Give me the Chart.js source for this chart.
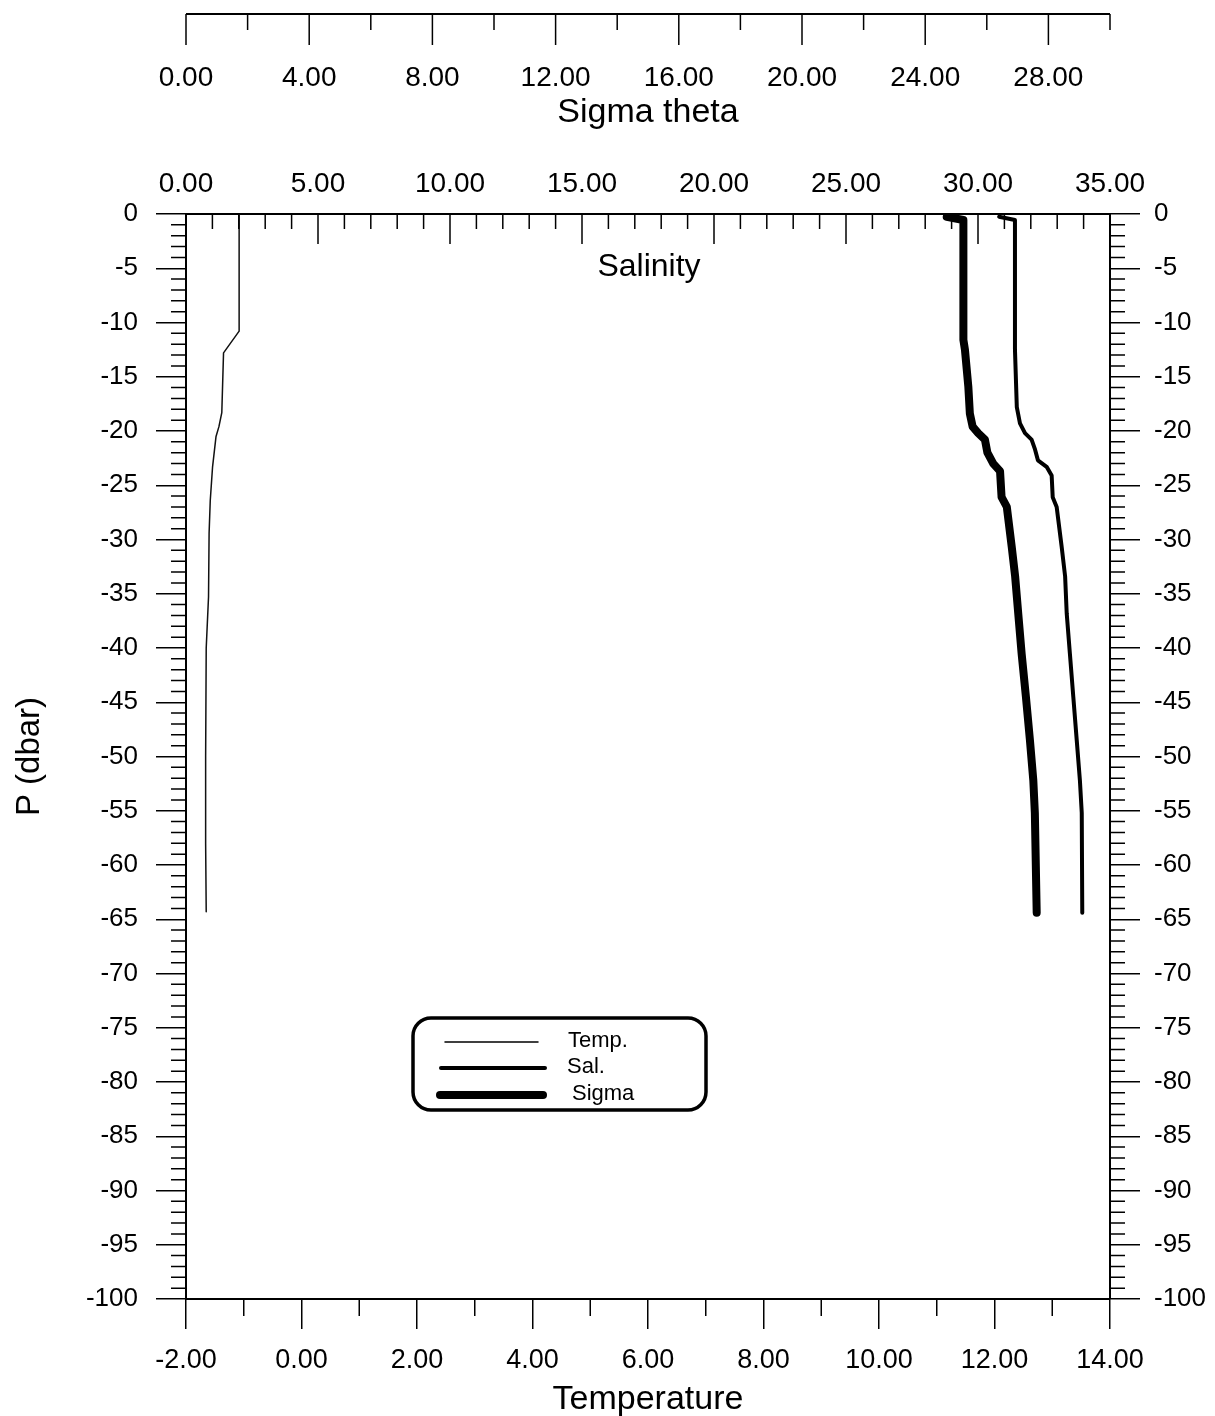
<!DOCTYPE html>
<html>
<head>
<meta charset="utf-8">
<script src="https://cdn.jsdelivr.net/npm/chart.js@4.4.1/dist/chart.umd.min.js"></script>
<style>
  html, body { margin: 0; padding: 0; background: #fff; }
</style>
</head>
<body>
<canvas id="ctd" width="1215" height="1416"></canvas>
<script>
// CTD cast: pressure is negative downward (dbar)
const presTemp = [0, -10.8, -12.8, -18.3, -19.6, -20.5, -23.3, -26.4, -29.4, -35.3, -40, -50, -58, -64.3];
const temp     = [-1.08, -1.08, -1.35, -1.38, -1.43, -1.48, -1.54, -1.58, -1.60, -1.61, -1.65, -1.66, -1.66, -1.65];

const presSal = [-0.25, -0.55, -12.5, -17.8, -19.3, -20.2, -20.8, -21.7, -22.7, -23.3, -24.1, -26.1, -27.0,
                 -30.7, -33.4, -36.8, -40.5, -44.5, -48.5, -52.2, -55.2, -64.4];
const sal     = [30.80, 31.40, 31.40, 31.47, 31.59, 31.78, 32.03, 32.16, 32.27, 32.60, 32.79, 32.83, 32.98,
                 33.17, 33.30, 33.36, 33.48, 33.61, 33.74, 33.86, 33.93, 33.95];

const presSig = [-0.25, -0.55, -11.6, -12.5, -15.9, -18.4, -19.6, -20.2, -20.8, -22.0, -23.0, -23.7, -26.1, -27.0,
                 -30.7, -33.4, -36.8, -40.5, -44.5, -48.5, -52.2, -55.2, -64.4];
const sigma   = [24.70, 25.24, 25.24, 25.29, 25.40, 25.45, 25.54, 25.72, 25.94, 26.02, 26.21, 26.43, 26.48, 26.65,
                 26.81, 26.92, 27.02, 27.13, 27.27, 27.40, 27.51, 27.56, 27.62];

const legendNames = ['Temp.', 'Sal.', 'Sigma'];
const lineWidths = [1.5, 4, 8];

const FONT = '"Liberation Sans", Arial, sans-serif';
Chart.defaults.font.family = FONT;
Chart.defaults.color = '#000';

function pts(xs, ys) {
    return xs.map((v, i) => ({x: v, y: ys[i]}));
}

function fixed2(v) {
    return Number(v).toFixed(2);
}

// minor ticks, sigma axis line, free text and the boxed legend
const extras = {
    id: 'extras',
    afterDraw(chart) {
        const ctx = chart.ctx;
        const s = chart.scales;
        const a = chart.chartArea;
        ctx.save();
        ctx.strokeStyle = '#000';
        ctx.fillStyle = '#000';
        ctx.lineWidth = 1.5;

        // P axes, minor every 1 dbar
        for (let v = -100; v <= 0; v++) {
            if (v % 5 === 0) continue;
            const py = s.y.getPixelForValue(v);
            ctx.beginPath();
            ctx.moveTo(a.left - 15, py); ctx.lineTo(a.left, py);
            ctx.moveTo(a.right, py); ctx.lineTo(a.right + 15, py);
            ctx.stroke();
        }

        // salinity ticks point into the plot
        for (let v = 0; v <= 35; v++) {
            const px = s.xS.getPixelForValue(v);
            const len = v % 5 === 0 ? 30 : 15;
            ctx.beginPath();
            ctx.moveTo(px, a.top); ctx.lineTo(px, a.top + len);
            ctx.stroke();
        }

        // temperature minor ticks
        for (let v = -1; v < 14; v += 2) {
            const px = s.xT.getPixelForValue(v);
            ctx.beginPath();
            ctx.moveTo(px, a.bottom); ctx.lineTo(px, a.bottom + 17);
            ctx.stroke();
        }

        // sigma theta axis sits on its own line above the labels
        const gy = s.xG.top + 14;
        ctx.lineWidth = 2;
        ctx.beginPath();
        ctx.moveTo(s.xG.left, gy); ctx.lineTo(s.xG.right, gy);
        ctx.stroke();
        ctx.lineWidth = 1.5;
        for (let v = 0; v <= 30; v += 2) {
            const px = s.xG.getPixelForValue(v);
            const len = v % 4 === 0 ? 31 : 16;
            ctx.beginPath();
            ctx.moveTo(px, gy); ctx.lineTo(px, gy + len);
            ctx.stroke();
        }

        const midX = (a.left + a.right) / 2;
        ctx.textAlign = 'center';
        ctx.textBaseline = 'middle';
        ctx.font = '34px ' + FONT;
        ctx.fillText('Sigma theta', midX, 113);
        ctx.font = '32px ' + FONT;
        ctx.fillText('Salinity', midX + 1, 267);

        // legend box
        const bx = 413, by = 1018, bw = 293, bh = 92, r = 18;
        ctx.lineWidth = 3.5;
        ctx.beginPath();
        ctx.moveTo(bx + r, by);
        ctx.arcTo(bx + bw, by, bx + bw, by + bh, r);
        ctx.arcTo(bx + bw, by + bh, bx, by + bh, r);
        ctx.arcTo(bx, by + bh, bx, by, r);
        ctx.arcTo(bx, by, bx + bw, by, r);
        ctx.closePath();
        ctx.stroke();

        const rows = [1042, 1068, 1095];
        const lineX = [[445, 538], [441, 545], [440, 543]];
        const textX = [568, 567, 572];
        ctx.font = '22px ' + FONT;
        ctx.textAlign = 'left';
        ctx.lineCap = 'round';
        legendNames.forEach((name, i) => {
            ctx.lineWidth = lineWidths[i];
            ctx.beginPath();
            ctx.moveTo(lineX[i][0], rows[i]); ctx.lineTo(lineX[i][1], rows[i]);
            ctx.stroke();
            ctx.fillText(name, textX[i], rows[i] - 1);
        });
        ctx.restore();
    }
};

const yFont = {size: 26};
const topFont = {size: 28};
const bottomFont = {size: 27};

new Chart(document.getElementById('ctd').getContext('2d'), {
    type: 'scatter',
    data: {
        datasets: [
            {label: 'Temp.', data: pts(temp, presTemp), xAxisID: 'xT', yAxisID: 'y',
             borderColor: '#111', borderWidth: lineWidths[0]},
            {label: 'Sal.', data: pts(sal, presSal), xAxisID: 'xS', yAxisID: 'y',
             borderColor: '#000', borderWidth: lineWidths[1]},
            {label: 'Sigma', data: pts(sigma, presSig), xAxisID: 'xG', yAxisID: 'y',
             borderColor: '#000', borderWidth: lineWidths[2]}
        ].map(d => Object.assign(d, {showLine: true, pointRadius: 0, fill: false, tension: 0,
                                     borderJoinStyle: 'round', borderCapStyle: 'round'}))
    },
    plugins: [extras],
    options: {
        responsive: false,
        animation: false,
        devicePixelRatio: 1,
        layout: {padding: 0},
        plugins: {
            legend: {display: false},
            tooltip: {enabled: false}
        },
        scales: {
            xT: {
                type: 'linear', position: 'bottom', min: -2, max: 14,
                ticks: {stepSize: 2, callback: fixed2, padding: 15, font: bottomFont,
                        maxRotation: 0, minRotation: 0, autoSkip: false},
                grid: {drawOnChartArea: false, tickLength: 30, color: '#000', lineWidth: 1.5},
                border: {color: '#000', width: 2},
                title: {display: true, text: 'Temperature', font: {size: 34}, padding: {top: 0, bottom: -4}},
                afterFit: sc => { sc.height = 117; }
            },
            xS: {
                type: 'linear', position: 'top', min: 0, max: 35, weight: 0,
                ticks: {stepSize: 5, callback: fixed2, padding: 5, font: topFont,
                        maxRotation: 0, minRotation: 0, autoSkip: false},
                grid: {display: false},
                border: {display: true, color: '#000', width: 2},
                afterFit: sc => { sc.height = 84; }
            },
            xG: {
                type: 'linear', position: 'top', min: 0, max: 30, weight: 1,
                ticks: {stepSize: 4, includeBounds: false, padding: 27, font: topFont,
                        callback: v => (v === 30 ? '' : fixed2(v)),
                        maxRotation: 0, minRotation: 0, autoSkip: false},
                grid: {display: false},
                border: {display: false},
                afterFit: sc => { sc.height = 130; }
            },
            y: {
                type: 'linear', position: 'left', min: -100, max: 0,
                ticks: {stepSize: 5, padding: 18, font: yFont, autoSkip: false},
                grid: {drawOnChartArea: false, tickLength: 30, color: '#000', lineWidth: 1.5},
                border: {color: '#000', width: 2},
                title: {display: true, text: 'P (dbar)', font: {size: 33}, padding: {top: 10, bottom: 0}},
                afterFit: sc => { sc.width = 186; }
            },
            y2: {
                type: 'linear', position: 'right', min: -100, max: 0,
                ticks: {stepSize: 5, padding: 14, font: yFont, autoSkip: false},
                grid: {drawOnChartArea: false, tickLength: 30, color: '#000', lineWidth: 1.5},
                border: {color: '#000', width: 2},
                afterFit: sc => { sc.width = 105; }
            }
        }
    }
});
</script>
</body>
</html>
